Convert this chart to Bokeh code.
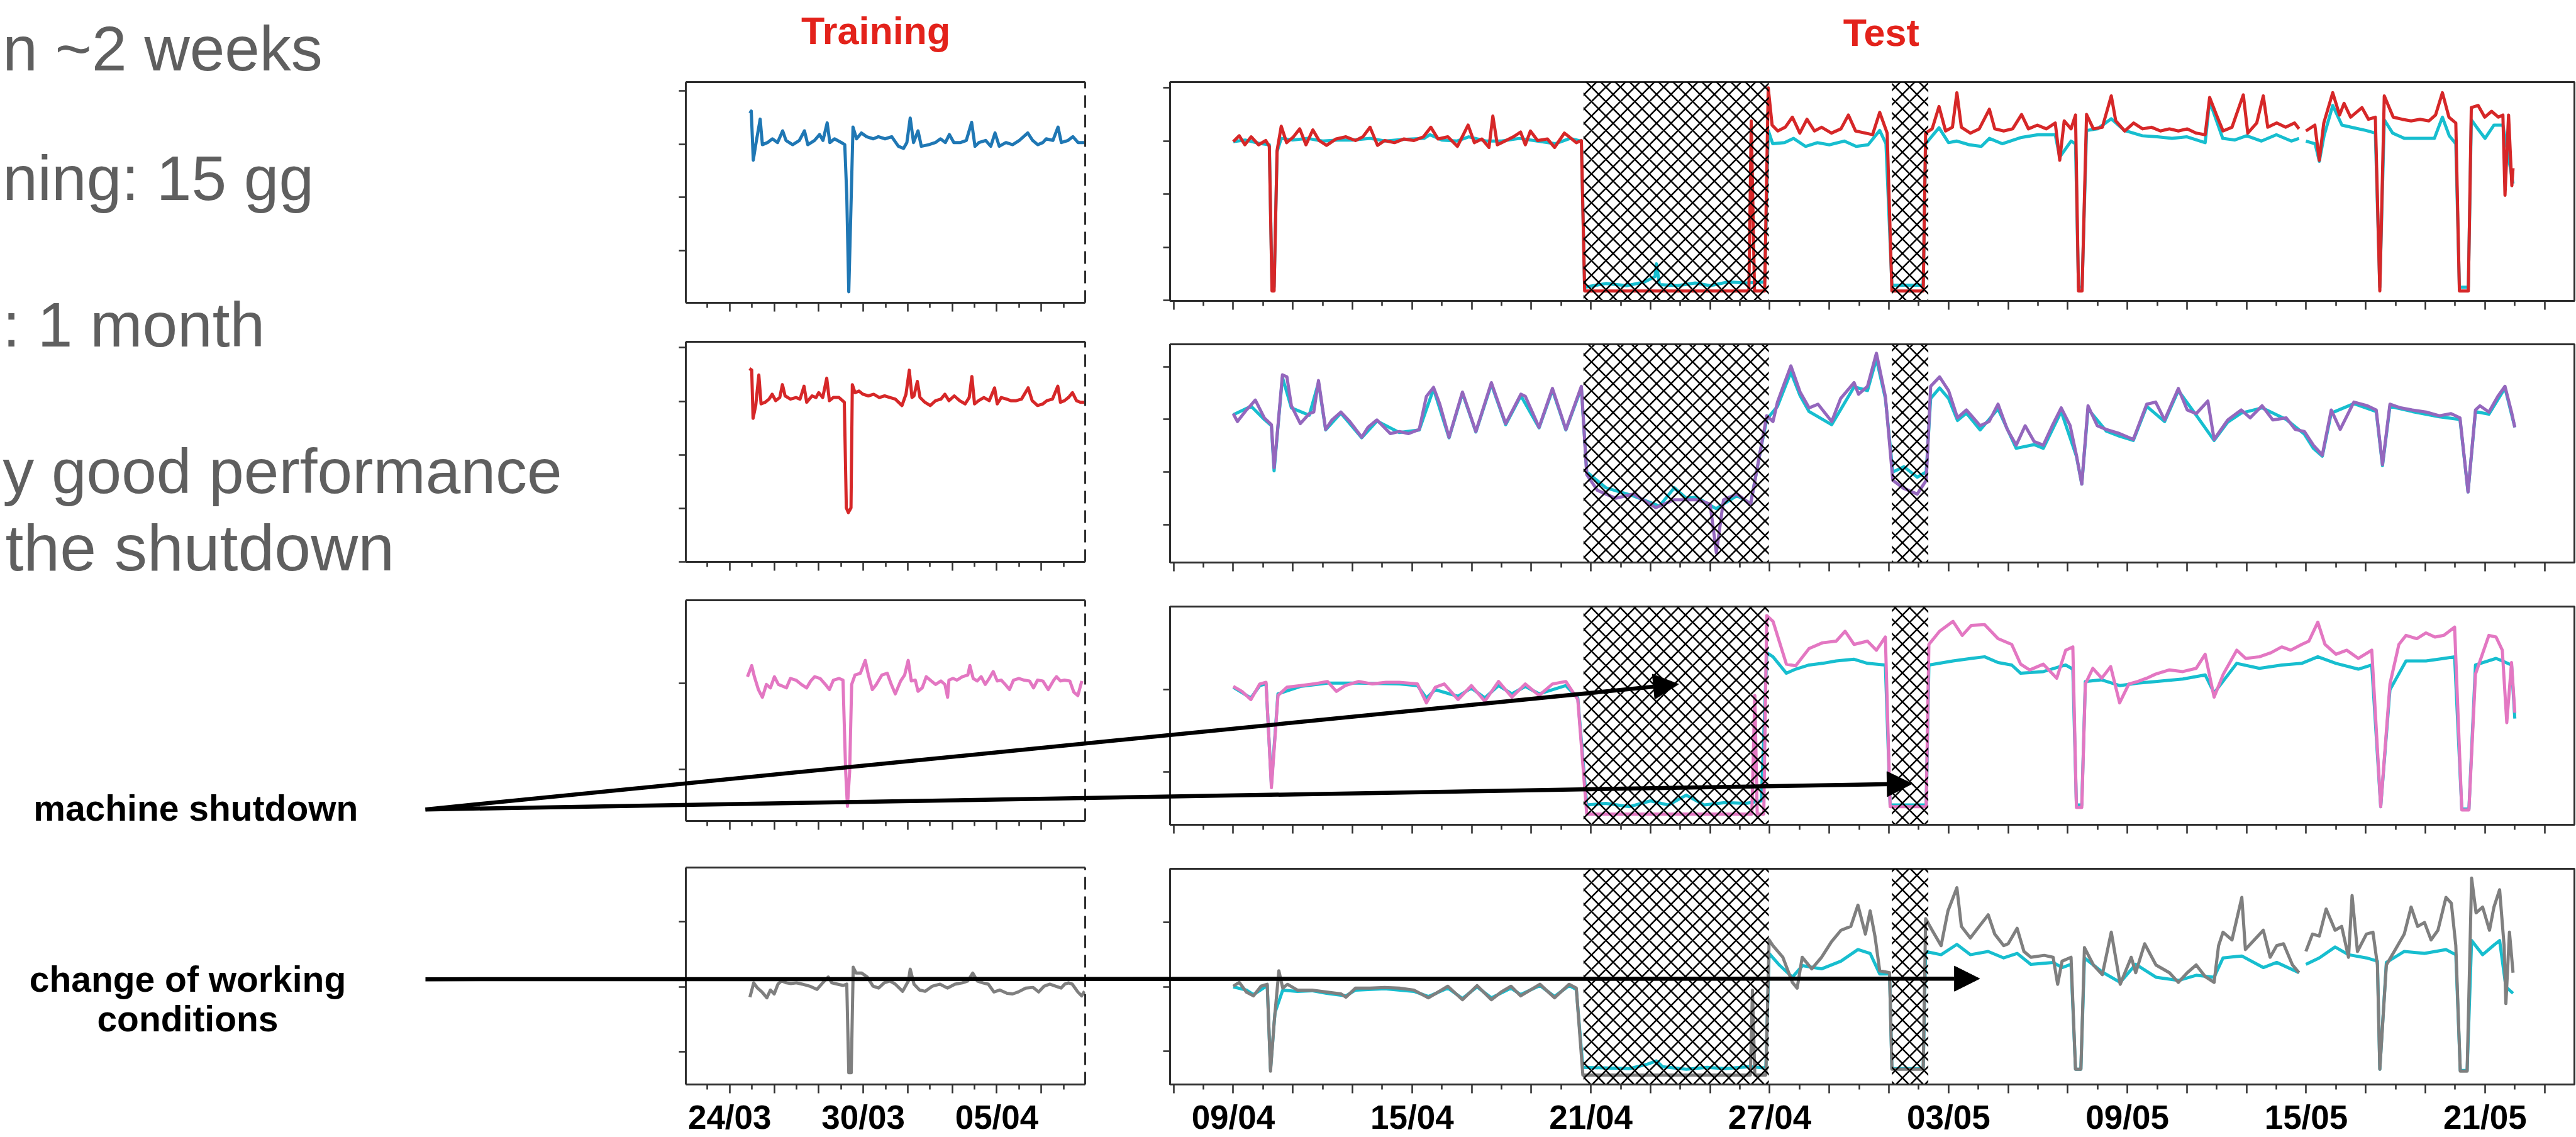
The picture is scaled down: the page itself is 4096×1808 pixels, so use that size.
from bokeh.plotting import figure
from bokeh.models import Range1d, FixedTicker, LinearAxis, Arrow, NormalHead
from bokeh.core.properties import value
from bokeh.embed import file_html
from bokeh.resources import INLINE

NaN = float("nan")

# ----------------------------------------------------------------- DATA
# x: days (training: days since 26/03, test: days since 09/04); y: panel units
train_labels = {-2: "24/03", 4: "30/03", 10: "05/04"}
test_labels = {0: "09/04", 6: "15/04", 12: "21/04", 18: "27/04",
               24: "03/05", 30: "09/05", 36: "15/05", 42: "21/05"}
shutdown_start = [11.75, 22.10]
shutdown_end = [17.97, 23.32]

tr1 = [(-1.09,3.58),(-1.03,3.62),(-0.94,2.70),(-0.83,2.99),(-0.63,3.47),(-0.53,2.99),(-0.30,3.03),(-0.08,3.10),
       (0.15,3.03),(0.38,3.25),(0.53,3.07),(0.83,2.99),(1.13,3.07),(1.36,3.25),(1.51,2.99),(1.81,3.07),(2.04,3.18),
       (2.19,3.07),(2.38,3.40),(2.50,3.03),(2.71,3.10),(3.02,3.03),(3.17,2.99),(3.26,2.04),(3.35,0.23),(3.44,1.68),
       (3.54,3.32),(3.70,3.10),(3.92,3.21),(4.15,3.14),(4.45,3.10),(4.68,3.14),(4.98,3.10),(5.28,3.14),(5.58,2.96),
       (5.81,2.92),(5.96,3.03),(6.11,3.49),(6.26,3.03),(6.46,3.25),(6.61,2.96),(6.94,2.99),(7.24,3.03),(7.47,3.10),
       (7.69,3.03),(7.87,3.18),(8.07,3.03),(8.37,3.03),(8.63,3.07),(8.87,3.41),(9.02,2.96),(9.20,3.03),(9.50,3.07),
       (9.73,2.96),(9.92,3.21),(10.11,2.96),(10.41,3.03),(10.71,2.99),(11.01,3.07),(11.39,3.21),(11.61,3.07),
       (11.84,2.99),(12.07,3.03),(12.22,3.10),(12.52,3.07),(12.75,3.32),(12.90,3.03),(13.20,3.07),(13.42,3.14),
       (13.65,3.03),(13.97,3.03)]

tr2 = [(-1.11,3.61),(-1.01,3.58),(-0.95,2.68),(-0.83,2.92),(-0.69,3.49),(-0.59,2.95),(-0.41,2.98),(-0.23,3.04),
       (-0.09,3.13),(0.07,3.01),(0.25,3.07),(0.37,3.31),(0.49,3.10),(0.73,3.04),(0.98,3.07),(1.16,3.04),(1.34,3.28),
       (1.46,2.98),(1.70,3.10),(1.88,3.07),(2.00,3.16),(2.18,3.07),(2.36,3.43),(2.48,3.01),(2.66,3.07),(2.91,3.07),
       (3.15,2.98),(3.24,1.01),(3.33,0.92),(3.45,1.01),(3.51,3.31),(3.63,3.16),(3.81,3.19),(3.99,3.13),(4.23,3.10),
       (4.47,3.13),(4.72,3.07),(4.96,3.10),(5.20,3.07),(5.44,3.04),(5.74,2.92),(5.92,3.13),(6.07,3.58),(6.19,3.07),
       (6.28,3.10),(6.43,3.37),(6.55,3.07),(6.77,2.98),(7.01,2.92),(7.25,3.01),(7.49,3.04),(7.67,3.13),(7.85,3.01),
       (8.09,3.10),(8.33,3.01),(8.58,2.95),(8.76,3.07),(8.88,3.46),(9.00,2.95),(9.18,3.01),(9.42,3.07),(9.66,3.01),
       (9.90,3.25),(10.02,2.95),(10.20,3.07),(10.44,3.04),(10.63,3.01),(10.87,3.01),(11.11,3.04),(11.41,3.25),
       (11.59,3.01),(11.83,2.92),(12.07,2.95),(12.25,3.01),(12.50,3.04),(12.74,3.28),(12.86,2.98),(13.04,3.01),
       (13.22,3.07),(13.40,3.16),(13.58,3.01),(13.76,2.98),(13.94,2.98)]

tr3 = [(-1.20,2.08),(-1.01,2.21),(-0.89,2.08),(-0.71,1.93),(-0.53,1.84),(-0.35,1.99),(-0.17,1.95),(0.01,2.08),
       (0.19,1.99),(0.37,1.97),(0.55,1.95),(0.73,2.06),(0.98,2.04),(1.22,1.99),(1.46,1.95),(1.64,2.03),(1.82,2.08),
       (2.06,2.06),(2.30,1.99),(2.48,1.93),(2.66,2.04),(2.91,2.06),(3.09,2.04),(3.21,0.98),(3.29,0.57),(3.39,0.98),
       (3.48,1.99),(3.63,2.10),(3.87,2.12),(4.09,2.27),(4.23,2.10),(4.41,1.93),(4.59,1.99),(4.84,2.10),(5.08,2.12),
       (5.26,1.99),(5.44,1.88),(5.68,2.03),(5.86,2.10),(6.02,2.27),(6.16,2.03),(6.34,2.04),(6.46,1.91),(6.65,1.95),
       (6.83,2.08),(7.01,2.04),(7.25,1.99),(7.49,2.03),(7.67,1.99),(7.79,1.84),(7.85,2.04),(8.03,2.06),(8.21,2.04),
       (8.45,2.08),(8.70,2.10),(8.79,2.21),(8.94,2.06),(9.12,2.03),(9.30,2.08),(9.48,1.99),(9.66,2.06),(9.84,2.14),
       (10.02,2.03),(10.20,2.04),(10.38,1.99),(10.57,1.93),(10.75,2.04),(10.99,2.06),(11.23,2.04),(11.47,2.03),
       (11.65,1.95),(11.83,2.04),(12.07,2.03),(12.31,1.93),(12.56,2.04),(12.68,2.08),(12.86,2.03),(13.04,2.04),
       (13.28,2.03),(13.46,1.90),(13.64,1.86),(13.82,2.03)]

tr4 = [(-1.09,1.84),(-0.92,2.06),(-0.75,1.98),(-0.55,1.92),(-0.33,1.83),(-0.17,1.95),(0.00,1.89),(0.17,2.04),
       (0.33,2.09),(0.55,2.06),(0.75,2.05),(1.00,2.06),(1.26,2.04),(1.59,2.01),(1.92,1.96),(2.18,2.06),(2.43,2.15),
       (2.59,2.06),(2.85,2.04),(3.10,2.02),(3.26,2.04),(3.35,0.68),(3.46,0.68),(3.55,2.30),(3.68,2.21),(3.93,2.21),
       (4.18,2.15),(4.44,2.01),(4.69,1.98),(4.94,2.06),(5.19,2.09),(5.44,2.04),(5.77,1.93),(6.03,2.09),(6.11,2.27),
       (6.28,2.04),(6.53,1.95),(6.78,1.93),(7.11,2.01),(7.45,2.04),(7.78,1.98),(8.12,2.04),(8.45,2.06),(8.70,2.09),
       (8.92,2.21),(9.12,2.09),(9.37,2.06),(9.62,2.04),(9.87,1.92),(10.13,1.95),(10.46,1.90),(10.71,1.89),
       (10.96,1.92),(11.30,1.98),(11.63,1.99),(11.88,1.92),(12.13,2.01),(12.38,2.04),(12.64,2.01),(12.89,1.98),
       (13.05,2.04),(13.22,2.06),(13.39,2.04),(13.64,1.92),(13.81,1.86),(13.94,1.93)]

te1_act = [(0.00,2.99),(0.20,3.10),(0.39,2.93),(0.60,3.08),(0.85,2.93),(1.09,3.01),(1.21,2.90),(1.30,0.18),(1.37,0.18),
       (1.47,2.82),(1.61,3.28),(1.79,2.97),(2.02,3.08),(2.23,3.23),(2.44,2.93),(2.67,3.21),(2.88,3.01),(3.13,2.92),
       (3.45,3.04),(3.78,3.08),(4.10,3.01),(4.35,3.08),(4.59,3.26),(4.84,2.92),(5.08,3.01),(5.41,2.97),(5.73,3.04),
       (6.06,3.01),(6.38,3.08),(6.63,3.26),(6.87,3.04),(7.20,3.08),(7.52,2.90),(7.88,3.30),(8.09,2.97),(8.34,3.04),
       (8.58,2.88),(8.71,3.47),(8.86,2.93),(9.15,3.01),(9.40,3.08),(9.64,3.17),(9.80,2.93),(9.97,3.19),(10.21,3.01),
       (10.54,3.04),(10.78,2.88),(11.11,3.15),(11.27,3.08),(11.51,2.97),(11.68,3.01),(11.79,0.18),(14.20,0.18),
       (17.30,0.18),(17.38,3.38),(17.49,0.18),(17.83,0.18),(17.95,4.00),(18.08,3.30),(18.27,3.19),(18.52,3.26),
       (18.76,3.45),(19.01,3.15),(19.25,3.41),(19.50,3.19),(19.74,3.26),(20.07,3.15),(20.39,3.23),(20.64,3.49),
       (20.88,3.19),(21.21,3.15),(21.45,3.12),(21.69,3.54),(21.94,3.15),(22.10,0.18),(23.15,0.18),(23.23,3.15),
       (23.45,3.23),(23.68,3.65),(23.90,3.19),(24.13,3.26),(24.28,3.91),(24.43,3.26),(24.73,3.15),(25.03,3.23),
       (25.37,3.60),(25.55,3.23),(25.85,3.19),(26.15,3.23),(26.45,3.50),(26.68,3.23),(26.98,3.30),(27.28,3.23),
       (27.58,3.34),(27.73,2.64),(27.88,3.38),(28.11,3.23),(28.26,3.49),(28.36,0.18),(28.48,0.18),(28.63,3.50),
       (28.86,3.23),(29.16,3.26),(29.46,3.85),(29.61,3.38),(29.91,3.19),(30.21,3.34),(30.51,3.23),(30.81,3.26),
       (31.11,3.19),(31.41,3.23),(31.71,3.19),(32.01,3.23),(32.31,3.15),(32.61,3.12),(32.76,3.82),(32.99,3.49),
       (33.21,3.19),(33.51,3.26),(33.89,3.87),(34.04,3.15),(34.34,3.34),(34.56,3.85),(34.71,3.26),(35.01,3.34),
       (35.31,3.26),(35.61,3.34),(35.76,3.23),(35.85,NaN),(35.99,3.19),(36.29,3.30),(36.44,2.64),(36.59,3.34),
       (36.89,3.91),(37.12,3.49),(37.27,3.71),(37.49,3.45),(37.87,3.63),(38.09,3.41),(38.32,3.45),(38.47,0.18),
       (38.62,3.85),(38.92,3.45),(39.22,3.41),(39.52,3.38),(39.82,3.41),(40.12,3.38),(40.34,3.49),(40.57,3.91),
       (40.79,3.45),(41.02,3.34),(41.14,0.18),(41.44,0.18),(41.54,3.63),(41.77,3.67),(41.99,3.45),(42.22,3.56),
       (42.45,3.45),(42.60,3.49),(42.67,1.98),(42.79,3.49),(42.90,2.16),(42.94,2.49)]

te1_pred = [(0.00,2.99),(0.40,3.02),(0.85,2.96),(1.21,2.93),(1.30,0.25),(1.37,0.25),(1.47,2.80),(1.61,3.05),(2.00,3.02),
       (2.50,3.05),(3.00,3.00),(3.50,3.02),(4.00,3.02),(4.60,3.05),(5.10,3.00),(5.70,3.03),(6.40,3.05),(6.60,3.12),
       (7.00,3.02),(7.50,3.00),(7.90,3.08),(8.50,3.00),(9.00,3.00),(9.60,3.05),(10.20,3.00),(10.80,2.95),(11.30,3.05),
       (11.68,3.00),(11.79,0.25),(12.50,0.32),(13.20,0.28),(13.80,0.35),(14.15,0.45),(14.20,0.69),(14.30,0.30),
       (14.90,0.28),(15.50,0.33),(16.00,0.28),(16.60,0.35),(17.20,0.33),(17.83,0.35),(17.95,3.20),(18.10,2.95),
       (18.50,2.97),(18.80,3.05),(19.20,2.90),(19.60,2.97),(20.00,2.93),(20.50,3.00),(20.90,2.90),(21.30,2.93),
       (21.69,3.20),(21.90,2.95),(22.10,0.29),(23.15,0.29),(23.23,2.95),(23.68,3.25),(24.00,2.97),(24.28,3.00),
       (24.70,2.93),(25.10,2.90),(25.37,3.05),(25.80,2.95),(26.45,3.07),(27.00,3.12),(27.58,3.12),(27.73,2.70),
       (28.11,3.00),(28.26,2.95),(28.36,0.25),(28.48,0.25),(28.63,3.20),(29.00,3.23),(29.46,3.42),(29.90,3.20),
       (30.50,3.10),(31.00,3.08),(31.50,3.05),(32.00,3.08),(32.61,2.97),(32.76,3.75),(33.20,3.05),(33.60,3.02),
       (34.00,3.10),(34.50,3.00),(35.00,3.12),(35.50,3.00),(35.76,3.05),(35.85,NaN),(35.99,3.00),(36.30,2.95),
       (36.44,2.62),(36.60,3.10),(36.89,3.67),(37.20,3.30),(37.60,3.25),(38.00,3.20),(38.32,3.15),(38.47,0.25),
       (38.62,3.40),(38.90,3.15),(39.30,3.05),(39.80,3.05),(40.30,3.05),(40.57,3.45),(40.80,3.10),(41.02,2.95),
       (41.14,0.25),(41.44,0.25),(41.54,3.40),(41.80,3.20),(42.00,3.05),(42.30,3.30),(42.60,3.30),(42.94,2.20)]

te2_act = [(0.00,3.11),(0.14,2.96),(0.44,3.18),(0.59,3.27),(0.74,3.37),(1.04,3.03),(1.28,2.90),(1.37,2.08),(1.50,2.88),
       (1.65,3.85),(1.80,3.81),(1.95,3.26),(2.25,2.92),(2.55,3.11),(2.70,3.14),(2.86,3.74),(3.10,2.81),(3.31,2.99),
       (3.61,3.14),(3.91,2.96),(4.31,2.66),(4.52,2.85),(4.82,2.99),(5.27,2.73),(5.57,2.77),(5.88,2.73),(6.24,2.81),
       (6.48,3.44),(6.72,3.61),(6.93,3.29),(7.24,2.66),(7.69,3.52),(8.14,2.77),(8.66,3.70),(9.14,2.92),(9.65,3.48),
       (9.80,3.44),(10.26,2.85),(10.71,3.59),(11.16,2.81),(11.68,3.63),(11.86,1.95),(12.22,1.65),(12.83,1.50),
       (13.43,1.58),(14.18,1.32),(14.79,1.47),(15.54,1.47),(16.00,1.39),(16.21,0.46),(16.45,1.47),(16.90,1.58),
       (17.36,1.39),(17.72,2.51),(17.90,3.07),(18.11,2.96),(18.26,3.33),(18.50,3.70),(18.71,4.02),(19.02,3.52),
       (19.32,3.22),(19.62,3.29),(20.08,2.96),(20.38,3.40),(20.83,3.70),(20.98,3.48),(21.28,3.63),(21.58,4.26),
       (21.88,3.44),(22.13,1.84),(22.49,1.69),(22.95,1.58),(23.25,1.84),(23.40,3.63),(23.70,3.81),(24.00,3.55),
       (24.30,3.03),(24.60,3.18),(25.06,2.88),(25.36,2.96),(25.66,3.29),(25.97,2.81),(26.27,2.51),(26.57,2.88),
       (26.87,2.58),(27.18,2.51),(27.48,2.88),(27.78,3.22),(28.08,2.88),(28.29,2.32),(28.47,1.77),(28.68,3.26),
       (28.99,2.88),(29.29,2.81),(29.74,2.73),(30.20,2.62),(30.65,3.29),(30.95,3.33),(31.25,2.99),(31.71,3.59),
       (32.01,3.18),(32.31,3.11),(32.70,3.35),(32.91,2.62),(33.37,2.99),(33.82,3.18),(34.12,3.03),(34.52,3.26),
       (34.88,2.99),(35.33,3.03),(35.63,2.81),(35.94,2.77),(36.24,2.51),(36.54,2.32),(36.84,3.18),(37.14,2.81),
       (37.60,3.33),(38.05,3.26),(38.35,3.18),(38.56,2.14),(38.81,3.29),(39.17,3.22),(39.56,3.18),(40.02,3.14),
       (40.47,3.07),(40.86,3.11),(41.16,3.03),(41.43,1.62),(41.68,3.18),(41.83,3.26),(42.13,3.14),(42.43,3.44),
       (42.67,3.63),(42.89,3.14),(43.00,2.85)]

te2_pred = [(0.00,3.09),(0.60,3.25),(1.04,3.00),(1.28,2.88),(1.37,2.02),(1.50,2.86),(1.65,3.80),(1.95,3.22),(2.55,3.08),
       (2.86,3.70),(3.10,2.80),(3.61,3.12),(4.31,2.65),(4.82,2.97),(5.57,2.75),(6.24,2.80),(6.72,3.58),(7.24,2.65),
       (7.69,3.50),(8.14,2.76),(8.66,3.67),(9.14,2.90),(9.65,3.45),(10.26,2.84),(10.71,3.56),(11.16,2.80),(11.68,3.60),
       (11.86,2.00),(12.50,1.70),(13.40,1.55),(14.30,1.35),(14.80,1.70),(15.20,1.50),(15.54,1.52),(16.20,1.30),
       (16.90,1.55),(17.36,1.40),(17.72,2.50),(17.90,3.00),(18.26,3.25),(18.71,3.90),(19.02,3.45),(19.32,3.15),
       (20.08,2.90),(20.83,3.62),(21.28,3.55),(21.58,4.15),(21.88,3.40),(22.13,2.00),(22.50,2.10),(22.95,1.90),
       (23.25,2.00),(23.40,3.40),(23.70,3.60),(24.00,3.40),(24.30,2.98),(24.60,3.12),(25.06,2.80),(25.66,3.20),
       (26.27,2.45),(26.87,2.52),(27.18,2.45),(27.78,3.15),(28.29,2.30),(28.47,1.77),(28.68,3.20),(29.29,2.78),
       (29.74,2.68),(30.20,2.60),(30.65,3.25),(31.25,2.96),(31.71,3.55),(32.31,3.08),(32.91,2.60),(33.37,2.95),
       (33.82,3.12),(34.52,3.22),(35.33,3.00),(35.94,2.72),(36.24,2.45),(36.54,2.30),(36.84,3.12),(37.60,3.30),
       (38.35,3.15),(38.56,2.12),(38.81,3.25),(39.56,3.15),(40.47,3.05),(41.16,3.00),(41.43,1.62),(41.68,3.15),
       (42.13,3.10),(42.67,3.60),(42.89,3.10),(43.00,2.85)]

te3_act = [(0.00,2.04),(0.29,1.98),(0.59,1.88),(0.89,2.07),(1.10,2.09),(1.28,0.81),(1.50,1.93),(1.80,2.03),(2.25,2.05),
       (2.70,2.07),(3.16,2.10),(3.46,1.98),(3.76,2.05),(4.21,2.10),(4.67,2.07),(5.12,2.09),(5.57,2.09),(6.18,2.07),
       (6.48,1.84),(6.78,2.03),(7.08,2.07),(7.54,1.88),(7.99,2.05),(8.44,1.86),(8.90,2.10),(9.35,1.91),(9.80,2.07),
       (10.26,1.93),(10.71,2.07),(11.16,2.10),(11.56,1.88),(11.86,0.49),(17.40,0.49),(17.50,1.93),(17.58,0.49),
       (17.80,0.49),(17.90,2.90),(18.11,2.83),(18.56,2.31),(18.87,2.29),(19.32,2.50),(19.77,2.57),(20.23,2.59),
       (20.53,2.71),(20.83,2.55),(21.28,2.59),(21.58,2.48),(21.88,2.64),(22.04,0.58),(23.25,0.58),(23.34,2.55),
       (23.70,2.71),(24.15,2.83),(24.46,2.66),(24.76,2.78),(25.21,2.79),(25.66,2.62),(26.12,2.55),(26.42,2.31),
       (26.72,2.24),(27.18,2.31),(27.63,2.14),(27.93,2.48),(28.17,2.52),(28.29,0.57),(28.47,0.57),(28.59,2.07),
       (28.84,2.26),(29.14,2.14),(29.44,2.28),(29.74,1.84),(30.05,2.07),(30.35,2.10),(30.65,2.14),(30.95,2.19),
       (31.40,2.24),(31.86,2.22),(32.31,2.26),(32.61,2.43),(32.91,1.91),(33.22,2.19),(33.67,2.48),(33.97,2.38),
       (34.43,2.40),(34.82,2.45),(35.18,2.52),(35.48,2.48),(35.85,2.55),(36.09,2.59),(36.39,2.82),(36.63,2.55),
       (37.00,2.43),(37.36,2.48),(37.75,2.38),(38.20,2.48),(38.50,0.58),(38.81,2.07),(39.11,2.55),(39.35,2.66),
       (39.71,2.62),(40.02,2.69),(40.32,2.64),(40.62,2.66),(40.98,2.76),(41.22,0.54),(41.46,0.54),(41.68,2.19),
       (42.13,2.66),(42.37,2.64),(42.58,2.48),(42.73,1.60),(42.89,2.33),(43.00,1.72)]

te3_pred = [(0.00,2.03),(0.59,1.90),(0.89,2.05),(1.10,2.07),(1.28,0.85),(1.50,1.95),(2.25,2.04),(3.16,2.08),(4.21,2.08),
       (5.57,2.07),(6.18,2.05),(6.48,1.90),(6.78,2.00),(7.54,1.92),(7.99,2.02),(8.44,1.90),(8.90,2.05),(9.35,1.95),
       (9.80,2.04),(10.26,1.95),(11.16,2.05),(11.56,1.90),(11.86,0.60),(12.50,0.62),(13.30,0.58),(14.00,0.65),
       (14.60,0.60),(15.20,0.72),(15.80,0.60),(16.50,0.63),(17.20,0.62),(17.72,0.65),(17.90,2.45),(18.11,2.40),
       (18.56,2.20),(18.87,2.25),(19.32,2.30),(19.77,2.32),(20.23,2.35),(20.83,2.37),(21.28,2.32),(21.88,2.30),
       (22.04,0.60),(23.25,0.60),(23.34,2.30),(24.15,2.35),(24.76,2.38),(25.21,2.40),(25.66,2.33),(26.12,2.30),
       (26.42,2.20),(27.18,2.22),(27.93,2.30),(28.17,2.25),(28.29,0.60),(28.47,0.60),(28.59,2.10),(29.14,2.12),
       (29.74,2.05),(30.35,2.08),(30.95,2.10),(31.86,2.13),(32.61,2.18),(32.91,1.96),(33.67,2.32),(34.43,2.26),
       (35.18,2.30),(35.85,2.32),(36.39,2.40),(37.00,2.32),(37.75,2.25),(38.20,2.30),(38.50,0.58),(38.81,2.00),
       (39.35,2.35),(40.02,2.35),(40.62,2.38),(40.98,2.40),(41.22,0.55),(41.46,0.55),(41.68,2.30),(42.37,2.38),
       (42.58,2.35),(42.89,2.30),(43.00,1.65)]

te4_act = [(0.00,2.01),(0.20,2.07),(0.44,1.92),(0.68,1.86),(0.93,2.01),(1.14,2.04),(1.25,0.69),(1.37,1.44),(1.53,2.25),
       (1.66,1.98),(1.82,2.04),(2.15,1.95),(2.64,1.95),(3.13,1.92),(3.62,1.89),(3.78,1.84),(4.10,1.98),(4.59,1.98),
       (5.08,1.99),(5.57,1.98),(6.06,1.95),(6.55,1.83),(7.20,2.01),(7.69,1.80),(8.18,2.02),(8.66,1.80),(8.99,1.92),
       (9.32,2.01),(9.64,1.86),(10.29,2.04),(10.78,1.83),(11.27,2.04),(11.51,1.98),(11.73,0.63),(17.35,0.63),
       (17.42,1.95),(17.50,0.63),(17.87,0.63),(17.98,2.73),(18.11,2.64),(18.44,2.46),(18.76,2.07),(18.92,1.98),
       (19.09,2.46),(19.41,2.28),(19.74,2.46),(20.07,2.70),(20.39,2.88),(20.72,2.94),(20.96,3.27),(21.21,2.82),
       (21.37,3.18),(21.53,2.79),(21.69,2.25),(22.02,2.22),(22.10,0.72),(23.15,0.72),(23.23,3.06),(23.45,2.88),
       (23.75,2.64),(23.98,3.18),(24.28,3.54),(24.43,2.94),(24.73,2.76),(25.03,2.94),(25.33,3.12),(25.55,2.82),
       (25.85,2.64),(26.00,2.67),(26.30,2.91),(26.53,2.55),(26.76,2.46),(27.21,2.49),(27.51,2.46),(27.66,2.04),
       (27.81,2.40),(28.11,2.46),(28.26,0.72),(28.44,0.72),(28.56,2.61),(28.86,2.34),(29.16,2.19),(29.46,2.85),
       (29.76,2.04),(30.13,2.46),(30.28,2.22),(30.58,2.67),(30.96,2.34),(31.41,2.22),(31.71,2.07),(32.01,2.22),
       (32.31,2.34),(32.61,2.16),(32.91,2.07),(33.06,2.64),(33.21,2.85),(33.51,2.73),(33.84,3.39),(33.96,2.58),
       (34.26,2.73),(34.56,2.88),(34.79,2.46),(35.01,2.64),(35.24,2.67),(35.54,2.34),(35.76,2.22),(35.85,NaN),
       (35.99,2.55),(36.21,2.82),(36.44,2.79),(36.67,3.21),(36.97,2.88),(37.19,2.94),(37.42,2.46),(37.54,3.42),
       (37.72,2.55),(38.02,2.82),(38.24,2.85),(38.39,2.34),(38.47,0.72),(38.69,2.34),(38.99,2.58),(39.29,2.82),
       (39.52,3.24),(39.74,2.94),(39.97,3.00),(40.19,2.73),(40.42,2.88),(40.69,3.39),(40.87,3.30),(41.02,2.64),
       (41.17,0.69),(41.40,0.69),(41.55,3.69),(41.70,3.15),(41.92,3.24),(42.15,2.88),(42.30,3.24),(42.49,3.51),
       (42.64,2.64),(42.70,1.74),(42.82,2.85),(42.94,2.22)]

te4_pred = [(0.00,2.00),(0.44,1.95),(0.68,1.88),(1.14,2.02),(1.25,0.72),(1.40,1.60),(1.66,1.95),(2.15,1.93),(2.64,1.94),
       (3.13,1.90),(3.78,1.86),(4.10,1.95),(5.08,1.97),(6.06,1.93),(6.55,1.85),(7.20,1.98),(7.69,1.82),(8.18,2.00),
       (8.66,1.83),(9.32,1.98),(9.64,1.88),(10.29,2.02),(10.78,1.85),(11.27,2.02),(11.51,1.96),(11.73,0.75),
       (12.50,0.74),(13.30,0.73),(13.90,0.80),(14.20,0.85),(14.40,0.76),(15.20,0.72),(15.90,0.75),(16.50,0.73),
       (17.30,0.76),(17.87,0.74),(17.98,2.52),(18.30,2.35),(18.76,2.15),(19.10,2.33),(19.74,2.28),(20.39,2.40),
       (20.96,2.58),(21.37,2.52),(21.69,2.20),(22.02,2.20),(22.10,0.73),(23.15,0.73),(23.23,2.55),(23.75,2.50),
       (24.28,2.66),(24.73,2.50),(25.33,2.55),(25.85,2.45),(26.30,2.52),(26.76,2.35),(27.51,2.38),(27.81,2.30),
       (28.11,2.35),(28.26,0.72),(28.44,0.72),(28.56,2.45),(29.16,2.23),(29.76,2.07),(30.28,2.35),(30.96,2.15),
       (31.71,2.10),(32.31,2.18),(32.91,2.15),(33.21,2.45),(33.84,2.48),(34.56,2.30),(35.01,2.38),(35.76,2.22),
       (35.85,NaN),(35.99,2.35),(36.44,2.45),(36.97,2.62),(37.42,2.50),(38.02,2.45),(38.39,2.40),(38.47,0.72),
       (38.69,2.38),(39.29,2.55),(39.97,2.52),(40.69,2.58),(41.02,2.50),(41.17,0.70),(41.40,0.70),(41.55,2.72),
       (41.92,2.50),(42.30,2.65),(42.49,2.72),(42.70,2.00),(42.94,1.90)]

left_notes = ["n ~2 weeks", "ning: 15 gg", ": 1 month", "y good performance", "the shutdown"]
callouts = ["machine shutdown", "change of working", "conditions"]

# ----------------------------------------------------------------- LAYOUT / STYLE
W, H = 4096, 1808
RW, RH = 4399, 1942
S = W / RW
FONT = "Liberation Sans"
AXC = "#2e2e2e"
CYAN = "#17becf"
C_ACT = ["#d62728", "#9467bd", "#e377c2", "#7f7f7f"]
C_TRAIN = ["#1f77b4", "#d62728", "#e377c2", "#7f7f7f"]
LW = 5.0
STACK = {"position": "fixed", "left": "0px", "top": "0px"}

train_frames = [(1171, 1853, 140, 517), (1171, 1853, 583, 959), (1171, 1853, 1025, 1402), (1171, 1853, 1481, 1857)]
test_frames = [(1998, 4396, 140, 513), (1998, 4396, 588, 960), (1998, 4396, 1035, 1408), (1998, 4396, 1483, 1856)]
train_yr = [(0.023, 4.165), (0.0, 4.11), (0.40, 2.97), (0.50, 3.83)]
train_yt = [[1, 2, 3, 4], [0, 1, 2, 3, 4], [1, 2], [1, 2, 3]]
test_yr = [(-0.007, 4.11), (0.276, 4.43), (0.36, 3.01), (0.483, 3.835)]
test_yt = [[0, 1, 2, 3, 4], [1, 2, 3, 4], [1, 2], [1, 2, 3]]
TRAIN_X = (-3.97, 13.97)
TEST_X = (-2.12, 45.0)
TRAIN_MAJ = list(range(-2, 13, 2))
TRAIN_MIN = list(range(-3, 14, 2))
TEST_MAJ = list(range(-2, 45, 2))
TEST_MIN = list(range(-1, 45, 2))


def blank_axis(**kw):
    return LinearAxis(ticker=FixedTicker(ticks=[], minor_ticks=[]), major_tick_out=0, major_tick_in=0,
                      minor_tick_out=0, minor_tick_in=0,
                      axis_line_color=AXC, axis_line_width=3, **kw)


def make_panel(frame, xr, yr, yticks, majors, minors, labels, show_labels, training, first):
    x0, x1, y0, y1 = frame
    L, R, T, B = round(x0 * S), round(x1 * S), round(y0 * S), round(y1 * S)
    kw = {} if first else {"styles": STACK}
    p = figure(width=W, height=H, output_backend="svg", toolbar_location=None, tools="",
               x_range=Range1d(*xr), y_range=Range1d(*yr),
               min_border_left=L, min_border_right=W - R, min_border_top=T, min_border_bottom=H - B,
               background_fill_color=None, border_fill_color=None,
               outline_line_color=None if training else AXC, outline_line_width=3, **kw)
    p.grid.visible = False
    xa = p.xaxis[0]
    xa.ticker = FixedTicker(ticks=majors, minor_ticks=minors)
    xa.major_label_overrides = {m: (labels.get(m, "") if show_labels else "") for m in majors}
    xa.major_tick_out, xa.major_tick_in = 14, 0
    xa.minor_tick_out, xa.minor_tick_in = 8, 0
    xa.major_tick_line_width = 2.5
    xa.minor_tick_line_width = 2.5
    xa.major_tick_line_color = AXC
    xa.minor_tick_line_color = AXC
    xa.axis_line_width = 3
    xa.axis_line_color = AXC
    xa.major_label_text_font = FONT
    xa.major_label_text_font_style = "bold"
    xa.major_label_text_color = "black"
    xa.major_label_text_font_size = "53px"
    xa.major_label_standoff = 8
    ya = p.yaxis[0]
    ya.ticker = FixedTicker(ticks=yticks, minor_ticks=[])
    ya.major_label_overrides = {t: "" for t in yticks}
    ya.major_tick_out, ya.major_tick_in = 11, 0
    ya.minor_tick_out, ya.minor_tick_in = 0, 0
    ya.major_tick_line_width = 2.5
    ya.major_tick_line_color = AXC
    ya.axis_line_width = 3
    ya.axis_line_color = AXC
    if training:
        p.add_layout(blank_axis(), "above")
        p.add_layout(blank_axis(axis_line_dash="20 11"), "right")
    return p


def split(pairs):
    return [a for a, _ in pairs], [b for _, b in pairs]


panels = []
for i, ser in enumerate([tr1, tr2, tr3, tr4]):
    p = make_panel(train_frames[i], TRAIN_X, train_yr[i], train_yt[i], TRAIN_MAJ, TRAIN_MIN,
                   train_labels, i == 3, True, i == 0)
    t, v = split(ser)
    p.line(t, v, line_color=C_TRAIN[i], line_width=LW, line_join="round")
    panels.append(p)

for i, (act, pred) in enumerate([(te1_act, te1_pred), (te2_act, te2_pred), (te3_act, te3_pred), (te4_act, te4_pred)]):
    p = make_panel(test_frames[i], TEST_X, test_yr[i], test_yt[i], TEST_MAJ, TEST_MIN,
                   test_labels, i == 3, False, False)
    t, v = split(pred)
    p.line(t, v, line_color=CYAN, line_width=LW, line_join="round")
    t, v = split(act)
    p.line(t, v, line_color=C_ACT[i], line_width=LW, line_join="round")
    p.quad(left=shutdown_start, right=shutdown_end, bottom=test_yr[i][0], top=test_yr[i][1],
           fill_color=None, line_color=None, hatch_pattern="x", hatch_color="black",
           hatch_weight=2.6, hatch_scale=23)
    panels.append(p)

# overlay for notes, titles and call-outs (coordinates in reference pixels)
ov = figure(width=W, height=H, output_backend="svg", toolbar_location=None, tools="",
            x_range=Range1d(0, RW), y_range=Range1d(RH, 0), min_border=0,
            x_axis_location=None, y_axis_location=None,
            background_fill_color=None, border_fill_color=None, outline_line_color=None,
            styles=STACK)
ov.xgrid.visible = False
ov.ygrid.visible = False

ov.text(x=[4, 4, 4, 4], y=[82, 303, 554, 804], text=left_notes[:4],
        text_align="left", text_baseline="alphabetic", text_font=value(FONT),
        text_font_size="100px", text_color="#5f5f5f")
ov.text(x=[673], y=[935], text=left_notes[4:],
        text_align="right", text_baseline="alphabetic", text_font=value(FONT),
        text_font_size="104px", text_color="#5f5f5f")
ov.text(x=[1495, 3212], y=[52, 55], text=["Training", "Test"], text_align="center",
        text_baseline="alphabetic", text_font=value(FONT), text_font_style="bold",
        text_font_size="61px", text_color="#e3221b")
ov.text(x=[611], y=[1380], text=[callouts[0]], text_align="right", text_baseline="alphabetic",
        text_font=value(FONT), text_font_style="bold", text_font_size="57px", text_color="black")
ov.text(x=[320, 320], y=[1672, 1739], text=callouts[1:], text_align="center", text_baseline="alphabetic",
        text_font=value(FONT), text_font_style="bold", text_font_size="57px", text_color="black")

for (xs, ys, xe, ye) in [(726, 1382, 2866, 1168), (726, 1382, 3265, 1338), (726, 1672, 3380, 1671)]:
    ov.add_layout(Arrow(end=NormalHead(size=40, fill_color="black", line_color="black", line_width=1),
                        x_start=xs, y_start=ys, x_end=xe, y_end=ye,
                        line_width=6.5, line_color="black"))

# separate roots (no frame alignment between them), stacked on top of each other
open("out.html", "w").write(file_html(panels + [ov], INLINE, title="Training / Test"))
